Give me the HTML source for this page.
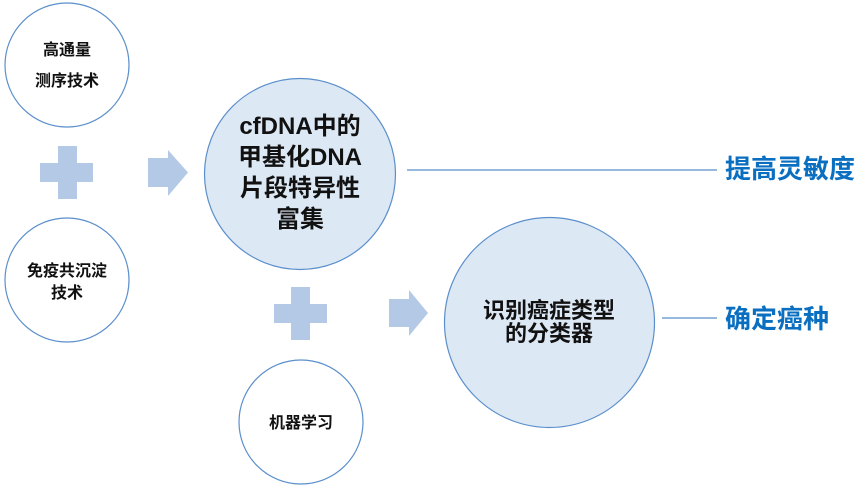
<!DOCTYPE html>
<html><head><meta charset="utf-8"><style>
body{margin:0;background:#fff;}
svg text{font-family:"Liberation Sans","Noto Sans CJK SC",sans-serif;font-weight:bold;}
</style></head><body>
<svg width="860" height="489" viewBox="0 0 860 489" xmlns="http://www.w3.org/2000/svg">
<g stroke="#5b8fcb" stroke-width="1.2">
<circle cx="67" cy="65" r="62" fill="#fff"/>
<circle cx="67" cy="280" r="62" fill="#fff"/>
<circle cx="300" cy="174" r="95.5" fill="#dde8f5"/>
<circle cx="549.5" cy="322.5" r="105" fill="#dde8f5"/>
<circle cx="301" cy="422" r="62" fill="#fff"/>
<line x1="407" y1="170" x2="717" y2="170"/>
<line x1="662" y1="318" x2="717" y2="318"/>
</g>
<g fill="#b4c9e6">
<rect x="58" y="146" width="19" height="53"/><rect x="40" y="163" width="53" height="19"/>
<rect x="291" y="287" width="19" height="53"/><rect x="274" y="304" width="53" height="19"/>
<polygon points="148,158 168,158 168,150 188,172.5 168,196 168,187 148,187"/>
<polygon points="389,299 409,299 409,290 428,313 409,336 409,327 389,327"/>
</g>
<g fill="#111" text-anchor="middle">
<text x="67" y="55" font-size="16">高通量</text>
<text x="67" y="86" font-size="16">测序技术</text>
<text x="67" y="276" font-size="16">免疫共沉淀</text>
<text x="67" y="298" font-size="16">技术</text>
<text x="301" y="428" font-size="16">机器学习</text>
<text x="300" y="134" font-size="24">cfDNA中的</text>
<text x="300" y="165" font-size="24">甲基化DNA</text>
<text x="300" y="196" font-size="24">片段特异性</text>
<text x="300" y="227" font-size="24">富集</text>
<text x="549" y="318" font-size="22">识别癌症类型</text>
<text x="549" y="341" font-size="22">的分类器</text>
</g>
<g fill="#0a6fc0">
<text x="725" y="178" font-size="26">提高灵敏度</text>
<text x="725" y="328" font-size="26">确定癌种</text>
</g>
</svg>
</body></html>
